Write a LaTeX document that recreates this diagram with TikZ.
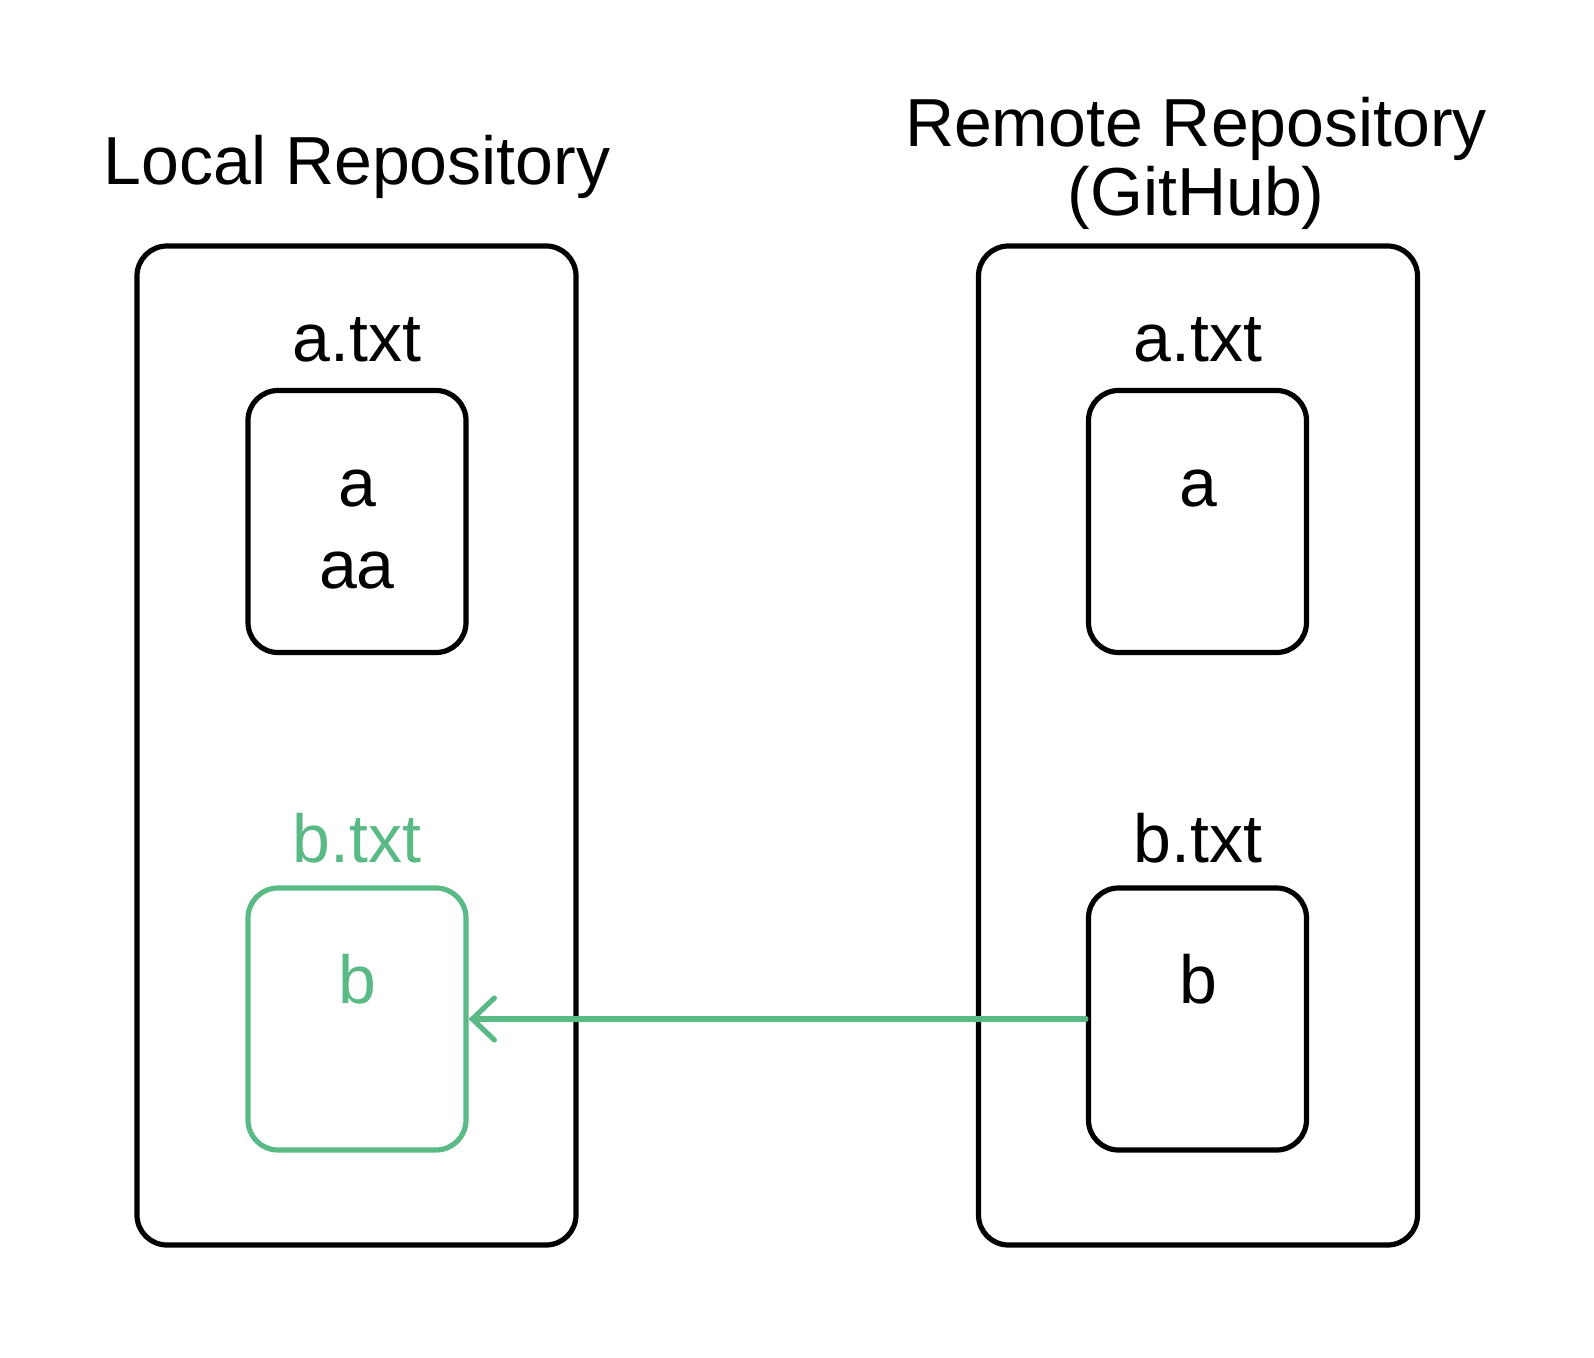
\documentclass[tikz,border=0pt]{standalone}
\usepackage{fontspec}
\setmainfont{Liberation Sans}
\usetikzlibrary{arrows.meta,positioning}
\definecolor{newgreen}{RGB}{90,186,134}

\tikzset{
  repo/.style={draw, line width=2.6pt, rounded corners=15pt, minimum width=219.5pt, minimum height=499.5pt},
  file/.style={draw, line width=2.6pt, rounded corners=15pt, minimum width=109pt, minimum height=131pt},
  lbl/.style={anchor=base, inner sep=0pt, font=\fontsize{34}{40}\selectfont},
}

\begin{document}
\begin{tikzpicture}[x=0.5pt,y=-0.5pt]
		\useasboundingbox (0,0) rectangle (1594,1358);
		% local
		\node[repo] (local) at (356.5,745.5) {};
		\node[lbl] (localtitle) at (357,185) {Local Repository};
		\node[lbl] (la) at (357,362) {a.txt};
		\node[file] (lfa) at (357,521.5) {};
		\node[lbl] (la1) at (357,506) {a};
		\node[lbl] (la2) at (357,588) {aa};
		\node[lbl, text=newgreen] (lb) at (357,862) {b.txt};
		\node[file, draw=newgreen] (lfb) at (357,1019) {};
		\node[lbl, text=newgreen] (lb1) at (357,1003) {b};
		
		% remote
		\node[repo] (remote) at (1198,745.5) {};
		\node[lbl] (remotetitle) at (1196,147) {Remote Repository};
		\node[lbl] (github) at (1196,216) {(GitHub)};
		\node[lbl] (ra) at (1198,362) {a.txt};
		\node[file] (rfa) at (1197.5,521.5) {};
		\node[lbl] (ra1) at (1198,506) {a};
		\node[lbl] (rb) at (1198,862) {b.txt};
		\node[file] (rfb) at (1197.5,1019) {};
		\node[lbl] (rb1) at (1198,1003) {b};
		
		% pull
		\draw[newgreen, line width=2.6pt, line cap=round, -{Straight Barb[length=11pt,width=21pt,line cap=round]}] (rfb.west) -- (lfb.east);
\end{tikzpicture}
\end{document}
